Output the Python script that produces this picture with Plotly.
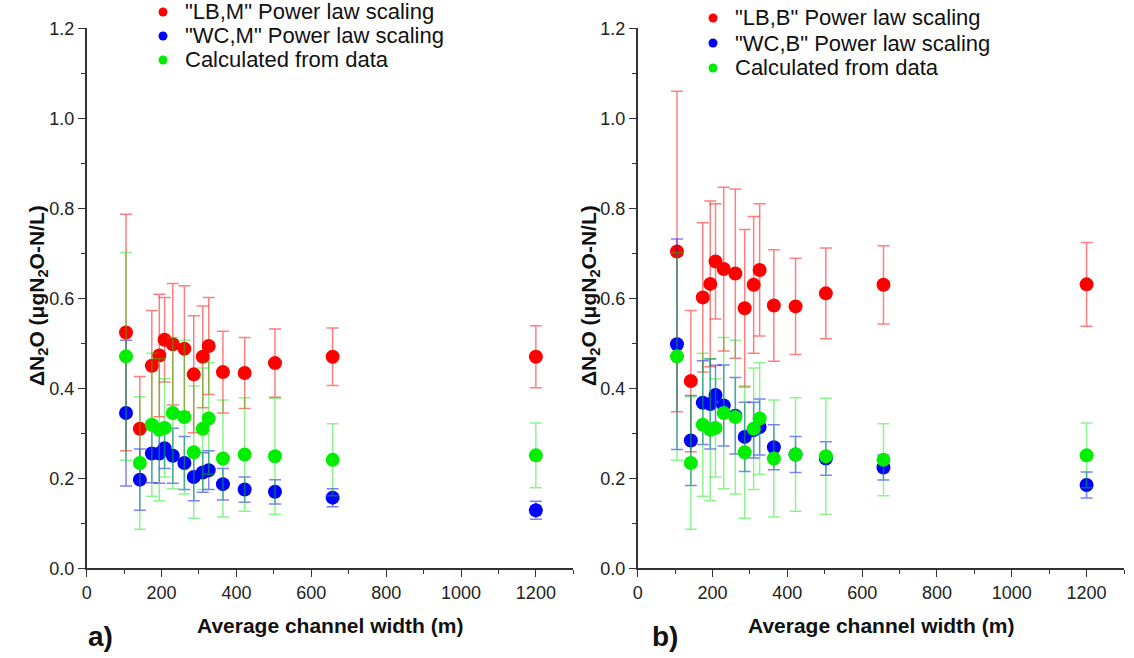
import plotly.graph_objects as go

# ---------------- data ----------------
widths = [105, 142, 174, 194, 208, 230, 261, 286, 310, 326, 364, 422, 503, 657, 1200]

# panel a (M)
lb_m = [0.524, 0.310, 0.450, 0.473, 0.508, 0.498, 0.488, 0.431, 0.470, 0.494, 0.436, 0.434, 0.456, 0.470, 0.470]
lb_m_err = [0.263, 0.116, 0.123, 0.136, 0.094, 0.135, 0.140, 0.130, 0.113, 0.108, 0.091, 0.079, 0.076, 0.064, 0.069]
wc_m = [0.345, 0.197, 0.255, 0.255, 0.267, 0.250, 0.234, 0.203, 0.213, 0.218, 0.187, 0.175, 0.170, 0.157, 0.129]
wc_m_err = [0.162, 0.068, 0.065, 0.066, 0.045, 0.061, 0.059, 0.053, 0.044, 0.043, 0.035, 0.028, 0.027, 0.020, 0.020]

# panel b (B)
lb_b = [0.704, 0.416, 0.602, 0.632, 0.682, 0.665, 0.655, 0.578, 0.630, 0.663, 0.584, 0.582, 0.611, 0.630, 0.631]
lb_b_err = [0.356, 0.157, 0.166, 0.184, 0.128, 0.182, 0.188, 0.175, 0.152, 0.147, 0.124, 0.107, 0.101, 0.087, 0.093]
wc_b = [0.498, 0.284, 0.368, 0.365, 0.385, 0.362, 0.339, 0.292, 0.307, 0.314, 0.269, 0.253, 0.244, 0.224, 0.185]
wc_b_err = [0.234, 0.100, 0.093, 0.100, 0.066, 0.090, 0.085, 0.077, 0.062, 0.062, 0.050, 0.040, 0.037, 0.028, 0.029]

# calculated from data (both panels)
calc = [0.471, 0.234, 0.319, 0.308, 0.312, 0.345, 0.336, 0.258, 0.310, 0.333, 0.244, 0.253, 0.249, 0.241, 0.251]
calc_err = [0.231, 0.147, 0.159, 0.158, 0.109, 0.168, 0.171, 0.147, 0.135, 0.124, 0.130, 0.126, 0.129, 0.080, 0.072]

names_a = ['"LB,M" Power law scaling', '"WC,M" Power law scaling', 'Calculated from data']
names_b = ['"LB,B" Power law scaling', '"WC,B" Power law scaling', 'Calculated from data']

# ---------------- style ----------------
FONT = "Arial, Liberation Sans, sans-serif"
OFF = 0                      # body margin removed via post_script
W, H = 1134, 658
colors = ["#ff0000", "#0000ff", "#00ee00"]
err_colors = ["rgba(255,0,0,0.5)", "rgba(0,0,255,0.5)", "rgba(0,230,0,0.45)"]
MS = 14

fig = go.Figure()

def add_panel(series, errs, names, xa, ya):
    for i, (vals, ev, name) in enumerate(zip(series, errs, names)):
        fig.add_trace(go.Scatter(
            x=widths, y=vals, mode="markers", xaxis=xa, yaxis=ya,
            marker=dict(color=colors[i], size=MS, line=dict(width=0)),
            error_y=dict(type="data", array=ev, visible=True, color=err_colors[i],
                         thickness=1.5, width=6),
            showlegend=False, name=name, hoverinfo="x+y"))

add_panel([lb_m, wc_m, calc], [lb_m_err, wc_m_err, calc_err], names_a, "x", "y")
add_panel([lb_b, wc_b, calc], [lb_b_err, wc_b_err, calc_err], names_b, "x2", "y2")

def px_x(p):
    return (p - OFF) / W

def px_y(p):
    return 1 - (p - OFF) / H

ydom = [px_y(568.3), px_y(28.3)]

axis_common = dict(
    showline=True, linecolor="#333333", linewidth=1.6, mirror=False,
    showgrid=False, zeroline=False, ticks="outside", ticklen=7, tickwidth=1.4,
    tickcolor="#333333", tickfont=dict(family=FONT, size=18, color="#222222"),
    automargin=False,
)

xcommon = dict(axis_common, range=[0, 1300], tickmode="linear", tick0=0, dtick=200,
               minor=dict(ticks="outside", dtick=100, ticklen=4, tickwidth=1.4,
                          tickcolor="#333333", showgrid=False))
ycommon = dict(axis_common, range=[0, 1.2], tickmode="linear", tick0=0, dtick=0.2,
               tickformat=".1f",
               minor=dict(ticks="outside", dtick=0.1, ticklen=4, tickwidth=1.4,
                          tickcolor="#333333", showgrid=False))

fig.update_layout(
    width=W, height=H,
    margin=dict(l=0, r=0, t=0, b=0, autoexpand=False),
    paper_bgcolor="white", plot_bgcolor="white",
    xaxis=dict(xcommon, domain=[px_x(86.7), px_x(573.3)], anchor="y"),
    yaxis=dict(ycommon, domain=ydom, anchor="x"),
    xaxis2=dict(xcommon, domain=[px_x(637.7), px_x(1124)], anchor="y2"),
    yaxis2=dict(ycommon, domain=ydom, anchor="x2"),
    showlegend=False,
)

# legend (text + symbol) drawn in paper coordinates
LEG_FONT = dict(family=FONT, size=22, color="#111111")
for names, mx, tx, rows in [(names_a, 163, 183, [12, 36, 60]),
                            (names_b, 713, 733, [18, 43, 68])]:
    for i, (name, ry) in enumerate(zip(names, rows)):
        r = 4.5
        fig.add_shape(type="circle", xref="paper", yref="paper",
                      x0=px_x(mx - r), x1=px_x(mx + r), y0=px_y(ry + r), y1=px_y(ry - r),
                      fillcolor=colors[i], line=dict(width=0))
        fig.add_annotation(xref="paper", yref="paper", showarrow=False, text=name,
                           x=px_x(tx), y=px_y(ry), xanchor="left", yanchor="middle",
                           font=LEG_FONT)

ytitle = "<b>ΔN<sub>2</sub>O (μgN<sub>2</sub>O-N/L)</b>"
xtitle = "<b>Average channel width (m)</b>"
ann = [
    dict(text=ytitle, x=px_x(38), y=px_y(296), textangle=-90, size=21),
    dict(text=ytitle, x=px_x(590), y=px_y(296), textangle=-90, size=21),
    dict(text=xtitle, x=px_x(330), y=px_y(625), size=21),
    dict(text=xtitle, x=px_x(881), y=px_y(625), size=21),
]
for a in ann:
    size = a.pop("size")
    fig.add_annotation(xref="paper", yref="paper", showarrow=False,
                       xanchor="center", yanchor="middle",
                       font=dict(family=FONT, size=size, color="#111111"), **a)

for lbl, xp in [("<b>a)</b>", 100), ("<b>b)</b>", 665)]:
    fig.add_annotation(xref="paper", yref="paper", showarrow=False, text=lbl,
                       x=px_x(xp), y=px_y(636), xanchor="center", yanchor="middle",
                       font=dict(family=FONT, size=28, color="#111111"))

fig.write_html("out.html",
               config={"displayModeBar": False},
               post_script="document.body.style.margin='0px';document.body.style.overflow='hidden';")
